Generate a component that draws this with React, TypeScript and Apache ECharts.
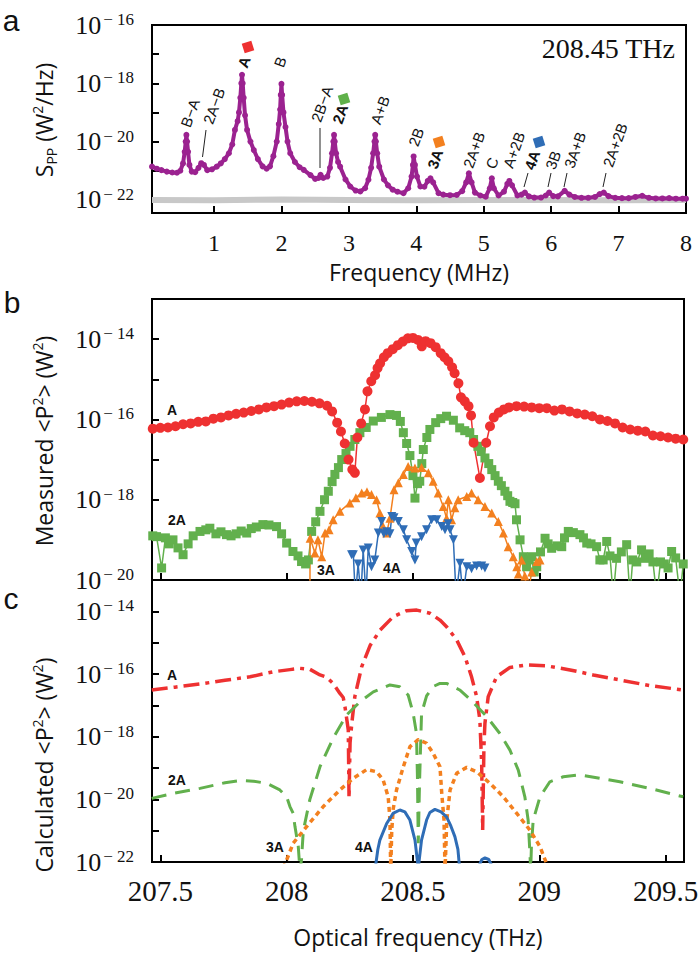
import React, { useEffect, useRef } from 'react';
import * as echarts from 'echarts';

// ---------- Panel a: RF power spectrum (frequency MHz, log10 S_PP) ----------
const spectrum: [number, number][] = [
  [0.08,-20.86],[0.15,-20.93],[0.22,-20.98],[0.3,-21.03],[0.38,-21.06],[0.45,-21.07],[0.5,-21.0],[0.54,-20.75],[0.565,-20.35],[0.58,-20.0],[0.59,-19.77],[0.6,-20.0],[0.615,-20.35],[0.635,-20.8],[0.67,-21.03],[0.72,-21.05],[0.77,-20.9],[0.81,-20.74],[0.85,-20.8],[0.9,-20.98],[0.97,-20.95],[1.04,-20.86],[1.1,-20.75],[1.16,-20.6],[1.22,-20.4],[1.27,-20.1],[1.31,-19.6],[1.35,-19.3],[1.37,-19.0],[1.39,-18.5],[1.405,-18.0],[1.415,-17.71],[1.425,-18.0],[1.44,-18.5],[1.46,-19.1],[1.49,-19.6],[1.54,-20.0],[1.59,-20.29],[1.65,-20.6],[1.72,-20.85],[1.78,-20.93],[1.83,-20.85],[1.88,-20.5],[1.93,-20.0],[1.96,-19.4],[1.98,-18.9],[1.99,-18.4],[2.0,-18.02],[2.01,-18.4],[2.03,-19.0],[2.06,-19.5],[2.09,-20.0],[2.13,-20.4],[2.2,-20.7],[2.27,-20.88],[2.33,-20.97],[2.43,-21.15],[2.5,-21.28],[2.55,-21.25],[2.58,-21.14],[2.62,-21.25],[2.68,-21.2],[2.72,-20.9],[2.75,-20.4],[2.77,-20.0],[2.78,-19.77],[2.79,-20.0],[2.81,-20.4],[2.84,-20.7],[2.87,-20.86],[2.95,-21.3],[3.02,-21.54],[3.1,-21.68],[3.17,-21.71],[3.24,-21.6],[3.29,-21.31],[3.33,-20.9],[3.36,-20.4],[3.38,-20.0],[3.39,-19.77],[3.4,-20.0],[3.42,-20.4],[3.45,-20.86],[3.52,-21.3],[3.58,-21.5],[3.65,-21.65],[3.72,-21.72],[3.81,-21.77],[3.88,-21.6],[3.93,-21.2],[3.95,-20.8],[3.96,-20.51],[3.98,-20.8],[4.01,-21.2],[4.06,-21.54],[4.12,-21.55],[4.17,-21.35],[4.21,-21.26],[4.25,-21.4],[4.33,-21.77],[4.4,-21.82],[4.5,-21.84],[4.6,-21.83],[4.68,-21.7],[4.74,-21.4],[4.78,-21.09],[4.82,-21.4],[4.87,-21.75],[4.95,-21.85],[5.03,-21.89],[5.09,-21.6],[5.12,-21.26],[5.15,-21.6],[5.22,-21.85],[5.3,-21.72],[5.35,-21.45],[5.38,-21.35],[5.42,-21.5],[5.5,-21.85],[5.56,-21.82],[5.61,-21.75],[5.67,-21.88],[5.75,-21.92],[5.85,-21.92],[5.92,-21.85],[5.97,-21.75],[6.03,-21.87],[6.1,-21.88],[6.2,-21.69],[6.27,-21.82],[6.35,-21.9],[6.45,-21.93],[6.55,-21.93],[6.65,-21.9],[6.72,-21.8],[6.78,-21.75],[6.85,-21.87],[6.95,-21.93],[7.05,-21.94],[7.15,-21.94],[7.25,-21.9],[7.35,-21.86],[7.45,-21.93],[7.55,-21.95],[7.65,-21.95],[7.75,-21.94],[7.85,-21.96],[7.95,-21.96],[8.0,-21.96]
];
const noiseFloor: [number, number][] = [
  [0.08,-22.0],[1,-22.01],[2,-21.99],[3,-22.0],[4,-22.01],[5,-22.0],[6,-22.0],[7,-22.01],[8,-22.0]
];

// ---------- Panel b: measured <P^2> (optical frequency THz, log10 W^2) ----------
const measA: [number, number][] = [
  [207.47,-16.23],[207.5,-16.21],[207.53,-16.2],[207.56,-16.17],[207.59,-16.12],[207.62,-16.1],[207.65,-16.06],[207.68,-16.05],[207.71,-15.98],[207.74,-15.95],[207.77,-15.9],[207.8,-15.86],[207.83,-15.83],[207.86,-15.79],[207.89,-15.75],[207.92,-15.7],[207.95,-15.67],[207.98,-15.63],[208.01,-15.58],[208.04,-15.55],[208.07,-15.54],[208.1,-15.56],[208.13,-15.6],[208.16,-15.66],[208.18,-15.8],[208.2,-16.08],[208.215,-16.3],[208.23,-16.6],[208.245,-17.0],[208.26,-17.25],[208.27,-17.33],[208.28,-16.45],[208.295,-16.1],[208.31,-15.75],[208.32,-15.3],[208.335,-15.05],[208.35,-14.9],[208.36,-14.72],[208.37,-14.6],[208.385,-14.45],[208.4,-14.35],[208.42,-14.25],[208.44,-14.15],[208.46,-14.06],[208.48,-13.98],[208.5,-13.97],[208.52,-14.02],[208.535,-14.18],[208.55,-14.05],[208.57,-14.1],[208.59,-14.2],[208.61,-14.35],[208.625,-14.45],[208.64,-14.55],[208.655,-14.7],[208.665,-14.85],[208.68,-15.1],[208.69,-15.45],[208.705,-15.55],[208.72,-15.67],[208.73,-15.9],[208.74,-16.58],[208.765,-17.46],[208.79,-16.58],[208.805,-16.17],[208.82,-15.95],[208.84,-15.83],[208.86,-15.75],[208.88,-15.7],[208.91,-15.67],[208.94,-15.68],[208.97,-15.7],[209.0,-15.72],[209.03,-15.72],[209.06,-15.78],[209.09,-15.75],[209.12,-15.8],[209.15,-15.85],[209.18,-15.88],[209.21,-15.92],[209.24,-16.0],[209.27,-16.04],[209.3,-16.1],[209.33,-16.2],[209.36,-16.25],[209.39,-16.28],[209.42,-16.3],[209.45,-16.4],[209.48,-16.42],[209.51,-16.45],[209.54,-16.48],[209.57,-16.5]
];
const meas2A: [number, number][] = [
  [207.47,-18.9],[207.485,-18.92],[207.505,-19.7],[207.52,-18.95],[207.535,-19.1],[207.55,-19.0],[207.57,-19.2],[207.59,-19.37],[207.61,-19.1],[207.63,-18.9],[207.657,-18.79],[207.68,-18.75],[207.696,-18.71],[207.72,-18.85],[207.74,-18.8],[207.762,-18.87],[207.78,-18.9],[207.8,-18.85],[207.82,-18.78],[207.842,-18.83],[207.86,-18.72],[207.88,-18.68],[207.906,-18.62],[207.93,-18.63],[207.96,-18.67],[207.98,-18.85],[208.0,-19.08],[208.025,-19.29],[208.045,-19.4],[208.059,-19.54],[208.075,-19.6],[208.086,-19.5],[208.099,-18.79],[208.115,-18.55],[208.132,-18.29],[208.15,-18.0],[208.165,-17.79],[208.18,-17.55],[208.191,-17.37],[208.205,-17.2],[208.218,-17.0],[208.235,-16.85],[208.251,-16.67],[208.27,-16.5],[208.29,-16.33],[208.315,-16.2],[208.343,-16.04],[208.375,-15.95],[208.409,-15.88],[208.435,-15.9],[208.45,-16.05],[208.462,-16.33],[208.475,-16.6],[208.488,-16.9],[208.5,-17.4],[208.508,-17.96],[208.518,-17.6],[208.527,-17.54],[208.535,-17.1],[208.541,-16.75],[208.555,-16.45],[208.567,-16.25],[208.59,-16.08],[208.61,-15.98],[208.633,-15.92],[208.66,-16.02],[208.685,-16.21],[208.705,-16.28],[208.725,-16.33],[208.74,-16.5],[208.757,-16.67],[208.77,-16.8],[208.785,-16.96],[208.8,-17.1],[208.812,-17.25],[208.825,-17.4],[208.838,-17.54],[208.85,-17.65],[208.864,-17.79],[208.875,-17.9],[208.884,-18.04],[208.895,-18.07],[208.904,-18.1],[208.91,-18.5],[208.924,-19.0],[208.937,-19.42],[208.95,-19.67],[208.96,-19.5],[208.97,-19.42],[208.98,-19.8],[208.99,-19.67],[209.005,-19.3],[209.023,-18.96],[209.035,-19.1],[209.049,-19.21],[209.07,-19.15],[209.089,-19.17],[209.1,-18.95],[209.115,-18.79],[209.135,-18.82],[209.161,-18.87],[209.175,-18.95],[209.188,-19.08],[209.205,-19.1],[209.227,-19.17],[209.24,-19.5],[209.253,-19.5],[209.267,-19.04],[209.28,-19.4],[209.293,-20.4],[209.306,-19.46],[209.325,-19.3],[209.346,-19.12],[209.359,-20.4],[209.37,-19.5],[209.386,-19.55],[209.405,-19.25],[209.42,-19.46],[209.435,-19.35],[209.45,-19.55],[209.465,-20.4],[209.48,-19.55],[209.495,-19.6],[209.51,-19.7],[209.524,-19.29],[209.54,-19.45],[209.557,-20.4],[209.57,-19.6]
];
const meas3A: [number, number][] = [
  [208.092,-20.4],[208.093,-18.96],[208.112,-19.33],[208.124,-19.0],[208.139,-19.42],[208.152,-18.83],[208.168,-18.75],[208.184,-18.5],[208.211,-18.29],[208.25,-18.08],[208.274,-17.95],[208.297,-17.83],[208.318,-17.8],[208.336,-17.87],[208.356,-18.0],[208.369,-18.33],[208.382,-18.67],[208.396,-18.83],[208.409,-18.46],[208.425,-17.75],[208.442,-17.58],[208.462,-17.37],[208.481,-17.17],[208.508,-17.21],[208.534,-17.2],[208.561,-17.33],[208.58,-17.54],[208.6,-17.83],[208.62,-18.17],[208.633,-18.46],[208.64,-18.0],[208.653,-18.5],[208.666,-18.2],[208.679,-18.0],[208.713,-17.92],[208.732,-17.83],[208.758,-18.0],[208.785,-18.17],[208.812,-18.33],[208.838,-18.54],[208.858,-18.83],[208.877,-19.17],[208.897,-19.42],[208.911,-19.67],[208.917,-19.85],[208.93,-19.5],[208.943,-19.9],[208.955,-20.4],[208.97,-19.8],[208.99,-19.54],[209.003,-19.5]
];
const meas4A: [number, number][] = [
  [208.257,-19.37],[208.264,-19.37],[208.272,-20.4],[208.283,-19.6],[208.294,-20.4],[208.303,-19.25],[208.314,-20.4],[208.323,-19.2],[208.336,-19.67],[208.349,-19.5],[208.363,-18.83],[208.376,-18.54],[208.385,-18.85],[208.396,-18.8],[208.409,-18.85],[208.416,-18.42],[208.425,-18.45],[208.442,-18.54],[208.462,-18.75],[208.475,-19.0],[208.495,-19.29],[208.508,-19.5],[208.513,-19.08],[208.534,-18.92],[208.554,-18.75],[208.574,-18.5],[208.594,-18.5],[208.614,-18.67],[208.627,-18.75],[208.639,-18.6],[208.647,-18.75],[208.66,-19.0],[208.671,-20.4],[208.686,-19.58],[208.698,-20.4],[208.713,-19.67],[208.732,-19.72],[208.752,-19.65],[208.772,-19.65],[208.785,-19.7]
];

// ---------- Panel c: calculated <P^2> ----------
const calcA: [number, number][] = [
  [207.466,-16.51],[207.558,-16.42],[207.657,-16.32],[207.756,-16.2],[207.855,-16.09],[207.946,-15.93],[208.013,-15.86],[208.053,-15.82],[208.092,-15.85],[208.132,-16.03],[208.158,-16.1],[208.184,-16.3],[208.211,-16.62],[208.224,-16.75],[208.231,-17.05],[208.239,-17.5],[208.244,-17.79],[208.247,-19.97],[208.251,-18.2],[208.258,-17.57],[208.27,-16.72],[208.297,-15.77],[208.331,-15.08],[208.37,-14.6],[208.422,-14.17],[208.475,-13.98],[208.515,-13.96],[208.567,-14.06],[208.607,-14.28],[208.633,-14.49],[208.673,-14.91],[208.706,-15.45],[208.732,-16.09],[208.752,-16.72],[208.765,-17.47],[208.772,-18.85],[208.776,-20.98],[208.781,-18.3],[208.785,-17.57],[208.798,-16.72],[208.831,-16.09],[208.884,-15.79],[208.95,-15.71],[209.029,-15.74],[209.122,-15.87],[209.214,-16.03],[209.319,-16.19],[209.437,-16.37],[209.57,-16.51]
];
const calc2A: [number, number][] = [
  [207.466,-19.97],[207.558,-19.8],[207.657,-19.65],[207.756,-19.47],[207.815,-19.4],[207.868,-19.42],[207.921,-19.49],[207.973,-19.7],[208.0,-19.92],[208.013,-20.23],[208.026,-20.45],[208.033,-20.87],[208.046,-21.5],[208.053,-22.3],[208.059,-21.9],[208.066,-21.0],[208.092,-20.0],[208.132,-18.96],[208.184,-18.05],[208.238,-17.3],[208.29,-16.89],[208.343,-16.57],[208.409,-16.35],[208.448,-16.41],[208.481,-16.67],[208.501,-17.26],[208.514,-17.9],[208.518,-19.38],[208.521,-21.4],[208.526,-19.5],[208.534,-17.26],[208.554,-16.7],[208.58,-16.4],[208.607,-16.3],[208.633,-16.3],[208.685,-16.51],[208.737,-16.89],[208.792,-17.36],[208.844,-17.9],[208.884,-18.43],[208.917,-19.07],[208.943,-19.92],[208.956,-20.66],[208.963,-21.7],[208.966,-22.3],[208.969,-21.5],[208.976,-20.66],[209.003,-19.92],[209.042,-19.44],[209.095,-19.28],[209.161,-19.22],[209.24,-19.33],[209.319,-19.44],[209.437,-19.65],[209.57,-19.92]
];
const calc3A: [number, number][] = [
  [207.987,-22.2],[208.026,-21.4],[208.079,-20.87],[208.145,-20.23],[208.211,-19.7],[208.264,-19.33],[208.317,-19.05],[208.356,-19.12],[208.382,-19.38],[208.402,-19.92],[208.409,-20.66],[208.412,-22.3],[208.416,-21.0],[208.422,-20.3],[208.435,-19.7],[208.462,-18.96],[208.488,-18.32],[208.521,-18.09],[208.554,-18.21],[208.58,-18.53],[208.607,-18.96],[208.614,-19.81],[208.623,-20.66],[208.627,-22.3],[208.634,-20.66],[208.647,-19.7],[208.673,-19.17],[208.713,-18.98],[208.752,-19.12],[208.805,-19.49],[208.858,-19.92],[208.911,-20.45],[208.963,-20.98],[209.003,-21.51],[209.036,-22.2]
];
const calc4A: ([number, number] | null)[] = [
  [208.349,-22.3],[208.361,-21.6],[208.369,-21.3],[208.396,-20.77],[208.421,-20.45],[208.448,-20.34],[208.468,-20.4],[208.488,-20.66],[208.508,-21.3],[208.521,-22.2],[208.534,-21.3],[208.554,-20.66],[208.567,-20.42],[208.587,-20.32],[208.611,-20.4],[208.633,-20.56],[208.65,-20.85],[208.666,-21.19],[208.678,-21.6],[208.686,-22.3],
  null,
  [208.757,-22.2],[208.773,-21.92],[208.785,-21.87],[208.8,-21.92],[208.817,-22.2]
];

// ---------- tick labels ----------
const mhzTicks = [1, 2, 3, 4, 5, 6, 7, 8];
const thzTicks = [207.5, 208, 208.5, 209, 209.5];
const decadeLabelsA = [-22, -20, -18, -16];
const decadeLabelsB = [-20, -18, -16, -14];
const decadeLabelsC = [-22, -20, -18, -16, -14];

// ---------- annotation texts ----------
const peakLabels = [
  { text: 'B−A', x: 190, y: 113, bold: false },
  { text: '2A−B', x: 214, y: 106, bold: false },
  { text: 'A', x: 244, y: 62, bold: true },
  { text: 'B', x: 280, y: 62, bold: false },
  { text: '2B−A', x: 322, y: 104, bold: false },
  { text: '2A', x: 340, y: 114, bold: true },
  { text: 'A+B', x: 380, y: 110, bold: false },
  { text: '2B', x: 416, y: 137, bold: false },
  { text: '3A', x: 435, y: 159, bold: true },
  { text: '2A+B', x: 474, y: 150, bold: false },
  { text: 'C', x: 492, y: 163, bold: false },
  { text: 'A+2B', x: 514, y: 150, bold: false },
  { text: '4A', x: 532, y: 160, bold: true },
  { text: '3B', x: 553, y: 160, bold: false },
  { text: '3A+B', x: 575, y: 150, bold: false },
  { text: '2A+2B', x: 615, y: 145, bold: false },
];
const leaderLines = [
  [202.5, 157, 206, 130],
  [320, 168, 320, 128],
  [524, 187, 528, 173],
  [548, 187, 551, 173],
  [564, 187, 567, 173],
  [603, 187, 606, 173],
];
const markerSquares = [
  { x: 248, y: 47, color: '#ee3131' },
  { x: 344, y: 99, color: '#5fb14a' },
  { x: 439, y: 142, color: '#f3801f' },
  { x: 539, y: 142, color: '#2f6db6' },
];
const harmonicLabels = [
  { text: 'A', x: 172, y: 410 }, { text: '2A', x: 177, y: 520 }, { text: '3A', x: 326, y: 570 }, { text: '4A', x: 392, y: 568 },
  { text: 'A', x: 172, y: 675 }, { text: '2A', x: 177, y: 780 }, { text: '3A', x: 275, y: 847 }, { text: '4A', x: 364, y: 847 },
];

const RED = '#ee3131';
const GREEN = '#62b04d';
const ORANGE = '#f3801f';
const BLUE = '#2f6db6';
const PURPLE = '#9b2290';
const SERIF = 'Liberation Serif';
const SANS = 'Liberation Sans, Arial, sans-serif';
const TITLE = 'Open Sans, Liberation Sans, sans-serif';

const expRich = {
  b: { fontFamily: SERIF, fontSize: 26, fill: '#111', color: '#111', lineHeight: 28 },
  s: { fontFamily: SERIF, fontSize: 17, fill: '#111', color: '#111', lineHeight: 16, verticalAlign: 'top', padding: [0, 0, 0, 2] },
};

export default function App() {
  const ref = useRef<HTMLDivElement>(null);
  useEffect(() => {
    if (!ref.current) return;
    const chart = echarts.init(ref.current, undefined, { renderer: 'svg' });
    const gridBase = { show: true, borderColor: '#000', borderWidth: 2, backgroundColor: 'transparent', containLabel: false, outerBoundsMode: 'none' };
    const tick = { show: true, inside: true, length: 7, lineStyle: { color: '#000', width: 2 } };
    const line = { show: true, lineStyle: { color: '#000', width: 2 } };
    const yAxisBase = (gi: number, min: number, max: number) => ({
      type: 'value', gridIndex: gi, min, max, minInterval: 1, maxInterval: 1,
      axisLine: line, axisTick: tick, splitLine: { show: false }, axisLabel: { show: false },
    });
    const thzAxis = (gi: number) => ({
      type: 'value', gridIndex: gi, min: 207.467, max: 209.573, minInterval: 0.5, maxInterval: 0.5,
      axisLine: line, axisTick: tick, splitLine: { show: false }, axisLabel: { show: false },
    });
    const markerLine = (name: string, data: any, color: string, symbol: string, size: number, rotate = 0) => ({
      name, type: 'line', xAxisIndex: 1, yAxisIndex: 1, data, symbol, symbolSize: size, symbolRotate: rotate,
      showAllSymbol: true, itemStyle: { color }, lineStyle: { color, width: 1.5 }, z: 3,
    });
    const calcLine = (name: string, data: any, color: string, type: any, width: number) => ({
      name, type: 'line', xAxisIndex: 2, yAxisIndex: 2, data, symbol: 'none', connectNulls: false,
      lineStyle: { color, width, type, cap: 'butt' }, z: 3,
    });

    chart.setOption({
      animation: false,
      backgroundColor: '#fff',
      grid: [
        { ...gridBase, left: 152, top: 25, width: 534, height: 188 },
        { ...gridBase, left: 152, top: 299, width: 532, height: 281 },
        { ...gridBase, left: 152, top: 580, width: 532, height: 282 },
      ],
      xAxis: [
        {
          type: 'value', gridIndex: 0, min: 0.08, max: 8.0, minInterval: 1, maxInterval: 1,
          axisLine: line, axisTick: tick, splitLine: { show: false }, axisLabel: { show: false },
        },
        thzAxis(1),
        thzAxis(2),
      ],
      yAxis: [yAxisBase(0, -22.45, -16), yAxisBase(1, -20, -13), yAxisBase(2, -22, -13)],
      series: [
        { name: 'noise', type: 'line', xAxisIndex: 0, yAxisIndex: 0, data: noiseFloor, symbol: 'none', lineStyle: { color: '#c8c8c8', width: 6 }, z: 2 },
        {
          name: 'Spp', type: 'line', xAxisIndex: 0, yAxisIndex: 0, data: spectrum, symbol: 'circle', symbolSize: 6,
          showAllSymbol: true, itemStyle: { color: PURPLE }, lineStyle: { color: PURPLE, width: 4 }, z: 3,
        },
        markerLine('2A', meas2A, GREEN, 'rect', 9),
        markerLine('A', measA, RED, 'circle', 10),
        markerLine('3A', meas3A, ORANGE, 'triangle', 9),
        markerLine('4A', meas4A, BLUE, 'triangle', 9, 180),
        calcLine('A calc', calcA, RED, [16, 6, 4, 6], 3.5),
        calcLine('2A calc', calc2A, GREEN, [15, 9], 3),
        calcLine('3A calc', calc3A, ORANGE, [5, 4], 3.5),
        calcLine('4A calc', calc4A, BLUE, 'solid', 3),
      ],
    });

    const center = { align: 'center', verticalAlign: 'middle', textAlign: 'center', textVerticalAlign: 'middle' };
    const graphics: any[] = [];
    // tick labels placed through the axes' own scales
    mhzTicks.forEach((v) => {
      const px = chart.convertToPixel({ xAxisIndex: 0 } as any, v) as number;
      graphics.push({ type: 'text', x: px, y: 243, style: { text: String(v), fontFamily: SERIF, fontSize: 24, fill: '#111', ...center } });
    });
    thzTicks.forEach((v) => {
      const px = chart.convertToPixel({ xAxisIndex: 2 } as any, v) as number;
      graphics.push({ type: 'text', x: px, y: 891, style: { text: String(v), fontFamily: SERIF, fontSize: 29, fill: '#111', ...center } });
    });
    ([[0, decadeLabelsA], [1, decadeLabelsB], [2, decadeLabelsC]] as [number, number[]][]).forEach(([ai, list]) => {
      list.forEach((e) => {
        const py = chart.convertToPixel({ yAxisIndex: ai } as any, e) as number;
        graphics.push({
          type: 'text', x: 134, y: py,
          style: { text: `{b|10}{s|− ${-e}}`, rich: expRich, fill: '#111', align: 'right', verticalAlign: 'middle', textAlign: 'right', textVerticalAlign: 'middle' },
        });
      });
    });
    peakLabels.forEach((p) => graphics.push({
      type: 'text', x: p.x, y: p.y, rotation: (70 * Math.PI) / 180,
      style: { text: p.text, fontFamily: SANS, fontSize: 15, fontWeight: p.bold ? 'bold' : 'normal', fill: '#111', ...center },
    }));
    leaderLines.forEach((l) => graphics.push({ type: 'line', shape: { x1: l[0], y1: l[1], x2: l[2], y2: l[3] }, style: { stroke: '#222', lineWidth: 1 } }));
    markerSquares.forEach((s) => graphics.push({ type: 'rect', x: s.x, y: s.y, rotation: 0.3, shape: { x: -5, y: -5, width: 10, height: 10 }, style: { fill: s.color } }));
    harmonicLabels.forEach((h) => graphics.push({
      type: 'text', x: h.x, y: h.y,
      style: { text: h.text, fontFamily: SANS, fontSize: 14, fontWeight: 'bold', fill: '#111', ...center },
    }));
    graphics.push({ type: 'text', x: 675, y: 48, style: { text: '208.45 THz', fontFamily: SERIF, fontSize: 28, fill: '#111', align: 'right', verticalAlign: 'middle', textAlign: 'right', textVerticalAlign: 'middle' } });
    [['a', 11, 20], ['b', 12, 302], ['c', 11, 598]].forEach(([t, x, y]) => graphics.push({
      type: 'text', x, y, style: { text: t, fontFamily: SANS, fontSize: 30, fill: '#111', ...center },
    }));
    const titleRich = {
      m: { fontFamily: TITLE, fontSize: 23, fill: '#111', color: '#111', lineHeight: 28 },
      sub: { fontFamily: TITLE, fontSize: 14, fill: '#111', color: '#111', lineHeight: 28, verticalAlign: 'bottom' },
      sup: { fontFamily: TITLE, fontSize: 14, fill: '#111', color: '#111', lineHeight: 14, verticalAlign: 'top' },
    };
    const yTitle = (text: string, x: number, y: number) => ({
      type: 'text', x, y, rotation: Math.PI / 2,
      style: { text, rich: titleRich, fill: '#111', ...center },
    });
    graphics.push(yTitle('{m|S}{sub|PP}{m| (W}{sup|2}{m|/Hz)}', 44, 120));
    graphics.push(yTitle('{m|Measured <P}{sup|2}{m|> (W}{sup|2}{m|)}', 44, 441));
    graphics.push(yTitle('{m|Calculated <P}{sup|2}{m|> (W}{sup|2}{m|)}', 44, 765));
    graphics.push({ type: 'text', x: 419, y: 272, style: { text: 'Frequency (MHz)', fontFamily: TITLE, fontSize: 23, fill: '#111', ...center } });
    graphics.push({ type: 'text', x: 418, y: 937, style: { text: 'Optical frequency (THz)', fontFamily: TITLE, fontSize: 23, fill: '#111', ...center } });

    chart.setOption({ graphic: graphics });
    return () => chart.dispose();
  }, []);
  return <div ref={ref} style={{ position: 'absolute', left: 0, top: 0, width: 700, height: 955 }} />;
}
